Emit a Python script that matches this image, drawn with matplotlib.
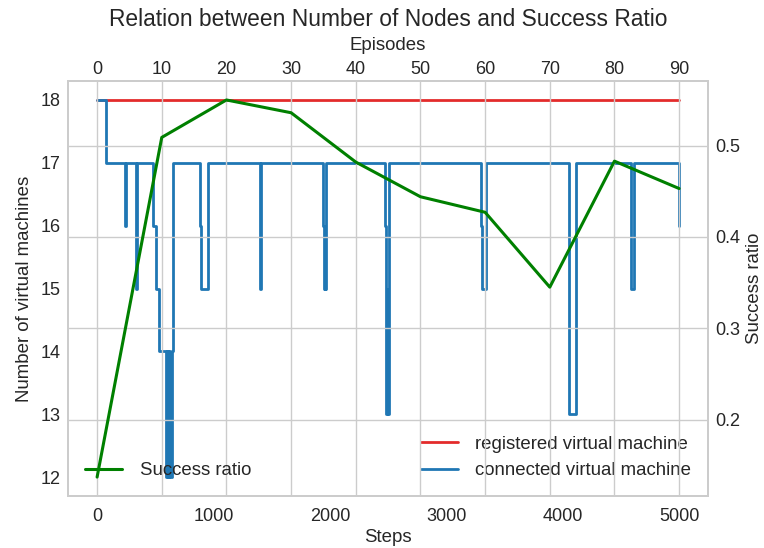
import matplotlib
matplotlib.use("Agg")
import matplotlib.pyplot as plt
from matplotlib.ticker import MultipleLocator
import seaborn as sns

sns.set_style("whitegrid")
sns.set_context("notebook")
plt.rcParams["font.family"] = ["Liberation Sans", "DejaVu Sans"]

# Registered machines: constant over the whole run
registered_steps = [0, 5000]
registered_vms = [18, 18]

# Connected machines: value changes at these steps (held until next change)
connected_steps = [0, 79, 237, 251, 333, 346, 480, 509, 532, 590, 600, 610, 620,
                   630, 640, 651, 883, 890, 955, 1399, 1410, 1944, 1950, 1956,
                   1962, 1968, 2475, 2485, 2492, 2498, 2505, 3300, 3305, 3345,
                   4052, 4110, 4584, 4590, 4612, 4995, 5000]
connected_vms = [18, 17, 16, 17, 15, 17, 16, 15, 14, 12, 14, 12, 14,
                 12, 14, 17, 16, 15, 17, 15, 17, 16, 15, 16,
                 15, 17, 16, 13, 15, 13, 17, 16, 15, 17,
                 13, 17, 16, 15, 17, 16, 16]

# Success ratio per evaluated episode
episodes = [0, 10, 20, 30, 40, 50, 60, 70, 80, 90]
success_ratio = [0.137, 0.509, 0.550, 0.536, 0.482, 0.444, 0.427, 0.345, 0.483, 0.453]

TICK_FS = 13
LABEL_FS = 13.4
LEGEND_FS = 13.4

fig = plt.figure(figsize=(7.64, 5.48), dpi=100)
ax = fig.add_subplot(111)
fig.subplots_adjust(left=0.089, right=0.927, top=0.852, bottom=0.095)

ax.plot(registered_steps, registered_vms, color="#e32b2b", lw=2,
        label="registered virtual machine")
ax.step(connected_steps, connected_vms, where="post", color="#1f77b4", lw=2,
        label="connected virtual machine")
ax.set_xlabel("Steps", fontsize=LABEL_FS, labelpad=3)
ax.set_ylabel("Number of virtual machines", fontsize=LABEL_FS, labelpad=5.5)
ax.xaxis.set_major_locator(MultipleLocator(1000))
ax.tick_params(axis="x", length=0, labelsize=TICK_FS, pad=8.5)
ax.tick_params(axis="y", length=0, labelsize=TICK_FS, pad=5.5)
ax.grid(False)
ax.legend(loc="lower right", frameon=False, fontsize=LEGEND_FS, handletextpad=0.95)

ax_right = ax.twinx()
ax_right.grid(True, axis="y")
ax_right.tick_params(axis="y", length=0, labelsize=TICK_FS, pad=5)
ax_right.set_ylabel("Success ratio", fontsize=LABEL_FS, labelpad=4)

ax_top = ax_right.twiny()
ax_top.plot(episodes, success_ratio, color="green", lw=2.2, label="Success ratio")
ax_top.xaxis.set_major_locator(MultipleLocator(10))
ax_top.grid(True, axis="x")
ax_top.tick_params(axis="x", length=0, labelsize=TICK_FS, pad=2.5)
ax_top.set_xlabel("Episodes", fontsize=LABEL_FS, labelpad=7.5)
ax_top.legend(loc="lower left", frameon=False, fontsize=LEGEND_FS, handletextpad=0.95)

ax_top.set_title("Relation between Number of Nodes and Success Ratio",
                 fontsize=16.4, pad=8)

fig.savefig("out.png", dpi=100)
